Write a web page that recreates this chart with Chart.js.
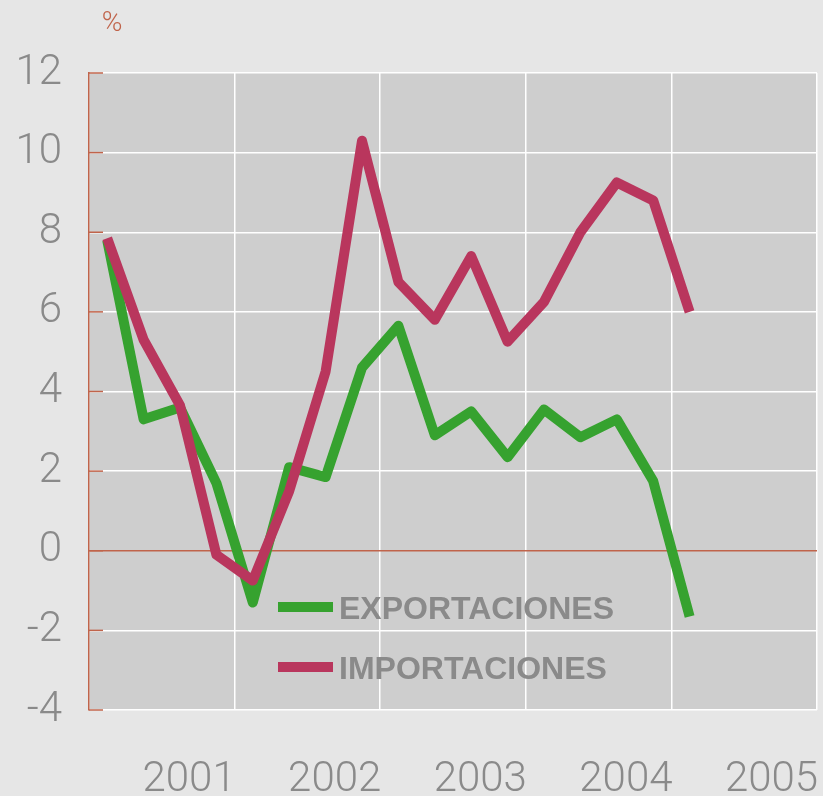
<!DOCTYPE html>
<html lang="es">
<head>
    <meta charset="UTF-8">
    <title>Exportaciones e importaciones</title>
    <script src="https://cdn.jsdelivr.net/npm/chart.js"></script>
    <style>
        body { margin: 0; background: #e6e6e6; }
        canvas { display: block; }
    </style>
</head>
<body>
    <canvas id="tradeChart" width="823" height="796"></canvas>

    <script>
        // quarterly series, Q1 2001 .. Q1 2005 (%)
        const quarters = ['2001T1','2001T2','2001T3','2001T4','2002T1','2002T2','2002T3','2002T4',
                          '2003T1','2003T2','2003T3','2003T4','2004T1','2004T2','2004T3','2004T4','2005T1'];
        const exportaciones = [7.8, 3.3, 3.6, 1.7, -1.3, 2.1, 1.85, 4.6, 5.65, 2.9, 3.5, 2.35, 3.55, 2.85, 3.3, 1.75, -1.65];
        const importaciones = [7.85, 5.3, 3.65, -0.1, -0.75, 1.5, 4.5, 10.3, 6.75, 5.8, 7.4, 5.25, 6.25, 8.0, 9.25, 8.8, 6.0];
        const years = ['2001', '2002', '2003', '2004', '2005'];
        const yTicks = [-4, -2, 0, 2, 4, 6, 8, 10, 12];

        const green = '#36a22f';
        const crimson = '#b9365d';
        const grey = '#8a8a8a';
        const rust = '#c0644b';

        const toPoints = vals => vals.map((v, i) => ({ x: i + 0.5, y: v }));

        const backdrop = {
            id: 'backdrop',
            beforeDraw(chart) {
                const { ctx, chartArea: a } = chart;
                ctx.save();
                ctx.fillStyle = '#cecece';
                ctx.fillRect(a.left, a.top, a.right - a.left, a.bottom - a.top);
                ctx.restore();
            },
            beforeDatasetsDraw(chart) {
                // tick marks drawn inside the plot on the left axis
                const { ctx, chartArea: a, scales } = chart;
                ctx.save();
                ctx.strokeStyle = rust;
                ctx.lineWidth = 1.5;
                yTicks.forEach(v => {
                    const y = scales.y.getPixelForValue(v);
                    ctx.beginPath();
                    ctx.moveTo(a.left, y);
                    ctx.lineTo(a.left + 14, y);
                    ctx.stroke();
                });
                ctx.restore();
            },
            afterDraw(chart) {
                const { ctx } = chart;
                ctx.save();
                // unit label
                ctx.fillStyle = rust;
                ctx.font = '300 28px Roboto, sans-serif';
                ctx.textAlign = 'center';
                ctx.textBaseline = 'middle';
                ctx.fillText('%', 112, 24);
                // legend
                const items = [['EXPORTACIONES', green, 609], ['IMPORTACIONES', crimson, 669]];
                ctx.font = 'bold 32px "Liberation Sans", Arial, sans-serif';
                ctx.textAlign = 'left';
                items.forEach(([label, color, y]) => {
                    ctx.strokeStyle = color;
                    ctx.lineWidth = 10;
                    ctx.beginPath();
                    ctx.moveTo(278, y - 2);
                    ctx.lineTo(333, y - 2);
                    ctx.stroke();
                    ctx.fillStyle = grey;
                    ctx.fillText(label, 339, y + 1);
                });
                ctx.restore();
            }
        };

        const noPad = s => { s.paddingLeft = 0; s.paddingRight = 0; s.paddingTop = 0; s.paddingBottom = 0; };

        const ctx = document.getElementById('tradeChart').getContext('2d');
        new Chart(ctx, {
            type: 'line',
            data: {
                datasets: [{
                    label: 'EXPORTACIONES',
                    data: toPoints(exportaciones),
                    borderColor: green,
                    order: 2
                }, {
                    label: 'IMPORTACIONES',
                    data: toPoints(importaciones),
                    borderColor: crimson,
                    order: 1
                }]
            },
            options: {
                responsive: false,
                animation: false,
                layout: { padding: { top: 73, right: 6, left: 0, bottom: 0 } },
                elements: {
                    line: { borderWidth: 10, borderJoinStyle: 'round', borderCapStyle: 'butt', tension: 0 },
                    point: { radius: 0 }
                },
                plugins: {
                    legend: { display: false },
                    tooltip: { enabled: false }
                },
                scales: {
                    x: {
                        type: 'linear',
                        min: 0,
                        max: 20,
                        afterBuildTicks: s => { s.ticks = [0, 4, 8, 12, 16, 20].map(v => ({ value: v })); },
                        afterFit: s => { s.height = 0; noPad(s); },
                        ticks: { display: false },
                        grid: { color: '#ffffff', lineWidth: 1.5, drawTicks: false },
                        border: { display: false }
                    },
                    xYears: {
                        type: 'linear',
                        position: 'bottom',
                        min: 0,
                        max: 20,
                        afterBuildTicks: s => { s.ticks = years.map((y, i) => ({ value: 2.75 + 4 * i })); },
                        afterFit: s => { s.height = 86; noPad(s); },
                        ticks: {
                            callback: (v) => years[Math.round((v - 2.75) / 4)],
                            color: grey,
                            font: { family: 'Roboto', size: 42, weight: '300' },
                            padding: 37,
                            maxRotation: 0,
                            autoSkip: false
                        },
                        grid: { display: false },
                        border: { display: false }
                    },
                    y: {
                        min: -4,
                        max: 12,
                        afterBuildTicks: s => { s.ticks = yTicks.map(v => ({ value: v })); },
                        afterFit: s => { s.width = 89; noPad(s); },
                        ticks: {
                            color: grey,
                            font: { family: 'Roboto', size: 42, weight: '300' },
                            padding: 27
                        },
                        grid: {
                            color: c => c.tick && c.tick.value === 0 ? rust : '#ffffff',
                            lineWidth: 1.5,
                            drawTicks: false
                        },
                        border: { color: rust, width: 1.5 }
                    }
                }
            },
            plugins: [backdrop]
        });
    </script>
</body>
</html>
